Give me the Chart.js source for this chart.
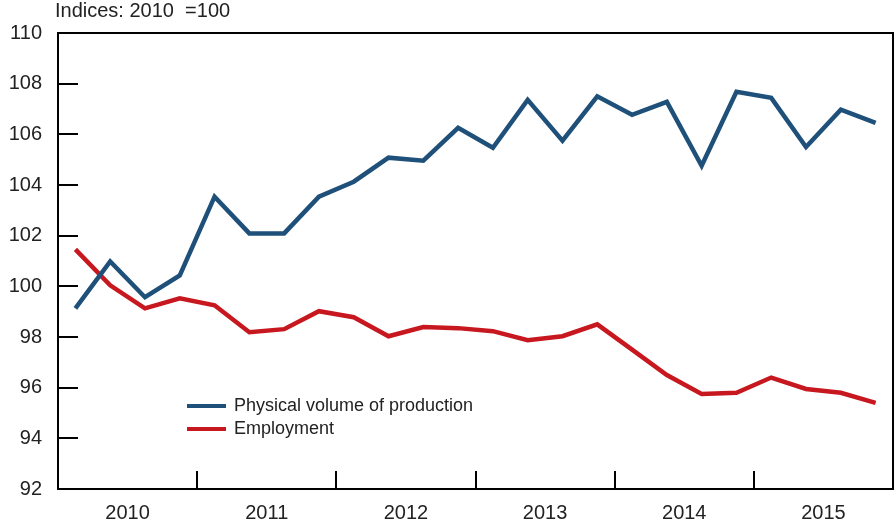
<!DOCTYPE html>
<html>
<head>
<meta charset="utf-8">
<script src="https://cdn.jsdelivr.net/npm/chart.js@4.4.1/dist/chart.umd.min.js"></script>
<style>
  html, body { margin: 0; padding: 0; background: #fff; }
  #wrap { width: 896px; height: 523px; }
</style>
</head>
<body>
<div id="wrap"><canvas id="chart" width="896" height="523"></canvas></div>
<script>
'use strict';

// data (quarterly, 2010 = 100)
let years = ['2010', '2011', '2012', '2013', '2014', '2015'];
let quarters = ['Q1', 'Q2', 'Q3', 'Q4'];
let production = [99.13, 100.98, 99.57, 100.43, 103.54, 102.09, 102.09, 103.54,
  104.13, 105.08, 104.96, 106.26, 105.47, 107.36, 105.75, 107.5,
  106.77, 107.28, 104.76, 107.68, 107.44, 105.5, 106.97, 106.45];
let employment = [101.46, 100.04, 99.13, 99.53, 99.25, 98.19, 98.31, 99.02,
  98.78, 98.03, 98.39, 98.35, 98.23, 97.87, 98.03, 98.5,
  97.5, 96.5, 95.75, 95.8, 96.4, 95.95, 95.8, 95.4];
let yTicks = [92, 94, 96, 98, 100, 102, 104, 106, 108, 110];
let unitLabel = 'Indices: 2010  =100';

let labels = [];
years.forEach(y => {
  quarters.forEach(q => labels.push(y + ' ' + q));
});

const FONT = '"Liberation Sans", Arial, sans-serif';
const TEXT = '#222';

// box, inward ticks, unit label and legend
const decorations = {
  id: 'decorations',
  afterDraw(chart) {
    const ctx = chart.ctx;
    const a = chart.chartArea;
    const y = chart.scales.y;
    const x2 = chart.scales.x2;
    ctx.save();
    ctx.strokeStyle = '#000';
    ctx.lineWidth = 2;
    ctx.strokeRect(a.left, a.top, a.right - a.left, a.bottom - a.top);

    ctx.beginPath();
    yTicks.forEach(v => {
      if (v === y.min || v === y.max) return;
      const py = Math.round(y.getPixelForValue(v));
      ctx.moveTo(a.left, py);
      ctx.lineTo(a.left + 20, py);
    });
    for (let i = 1; i < years.length; i++) {
      const px = Math.round((x2.getPixelForValue(i - 1) + x2.getPixelForValue(i)) / 2);
      ctx.moveTo(px, a.bottom);
      ctx.lineTo(px, a.bottom - 18);
    }
    ctx.stroke();

    ctx.fillStyle = TEXT;
    ctx.font = '20px ' + FONT;
    ctx.textBaseline = 'middle';
    ctx.textAlign = 'left';
    ctx.fillText(unitLabel, a.left - 3, 11);

    // legend
    ctx.font = '18px ' + FONT;
    chart.data.datasets.forEach((ds, i) => {
      const ly = 406 + i * 23;
      ctx.strokeStyle = ds.borderColor;
      ctx.lineWidth = 4;
      ctx.beginPath();
      ctx.moveTo(187, ly);
      ctx.lineTo(226, ly);
      ctx.stroke();
      ctx.fillStyle = TEXT;
      ctx.fillText(ds.label, 234, ly);
    });
    ctx.restore();
  }
};

let chart = new Chart(document.getElementById('chart').getContext('2d'), {
  type: 'line',
  data: {
    labels: labels,
    datasets: [{
      label: 'Physical volume of production',
      data: production,
      borderColor: '#1f507a',
      borderWidth: 4.5,
      pointRadius: 0,
      tension: 0,
      xAxisID: 'x'
    }, {
      label: 'Employment',
      data: employment,
      borderColor: '#c8181f',
      borderWidth: 4.5,
      pointRadius: 0,
      tension: 0,
      xAxisID: 'x'
    }]
  },
  options: {
    responsive: false,
    animation: false,
    devicePixelRatio: 1,
    layout: { padding: { top: 33, right: 3, left: 0, bottom: 0 } },
    plugins: {
      legend: { display: false },
      tooltip: { enabled: false }
    },
    scales: {
      x: {
        type: 'category',
        offset: true,
        display: false
      },
      x2: {
        type: 'category',
        labels: years,
        offset: true,
        position: 'bottom',
        border: { display: false },
        grid: { display: false },
        ticks: {
          color: TEXT,
          font: { family: FONT, size: 20 },
          padding: 4,
          maxRotation: 0
        },
        afterFit(scale) { scale.height = 34; }
      },
      y: {
        min: 92,
        max: 110,
        border: { display: false },
        grid: { display: false },
        afterBuildTicks(scale) {
          scale.ticks = yTicks.map(v => ({ value: v }));
        },
        ticks: {
          color: TEXT,
          font: { family: FONT, size: 20 },
          padding: 8
        },
        afterFit(scale) { scale.width = 58; }
      }
    }
  },
  plugins: [decorations]
});
</script>
</body>
</html>
